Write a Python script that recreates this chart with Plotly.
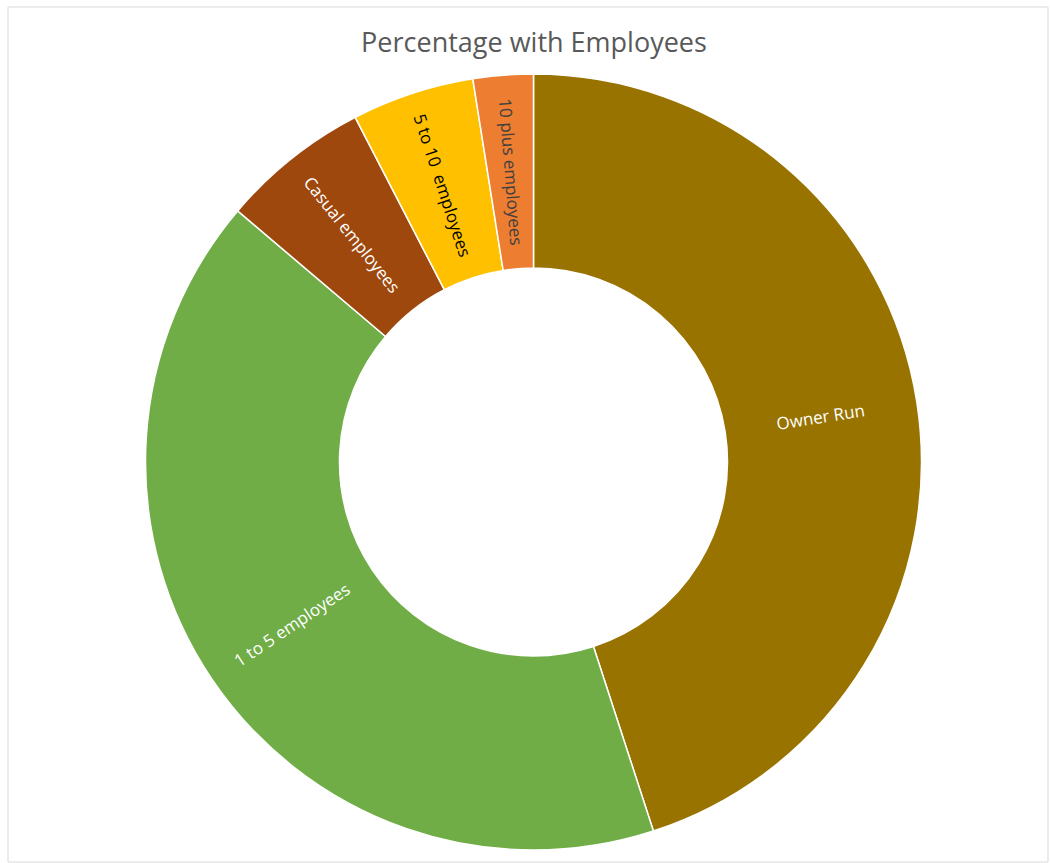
import math
import plotly.graph_objects as go

labels = ["Owner Run", "1 to 5 employees", "Casual employees", "5 to 10  employees", "10 plus employees"]
values = [45.0, 41.2, 6.2, 5.1, 2.5]
colors = ["#997300", "#70AD47", "#9E480E", "#FFC000", "#ED7D31"]
text_colors = ["#FFFFFF", "#FFFFFF", "#FFFFFF", "#000000", "#404040"]

W, H = 1050, 863
# donut geometry (pixels)
CX, CY, R = 533.5, 462.0, 388.0
HOLE = 0.5

fig = go.Figure(go.Pie(
    labels=labels,
    values=values,
    sort=False,
    direction="clockwise",
    rotation=0,
    hole=HOLE,
    marker=dict(colors=colors, line=dict(color="#FFFFFF", width=1.5)),
    textinfo="none",
    hoverinfo="label+percent",
    showlegend=False,
    domain=dict(x=[(CX - R) / W, (CX + R) / W], y=[(H - (CY + R)) / H, (H - (CY - R)) / H]),
))

# radial labels placed at the middle of the ring, derived from the values
total = sum(values)
r_mid = R * (1 + HOLE) / 2
annotations = []
cum = 0.0
for lab, v, tc in zip(labels, values, text_colors):
    theta = (cum + v / 2) / total * 360.0  # clockwise from 12 o'clock
    cum += v
    t = math.radians(theta)
    px = CX + r_mid * math.sin(t)
    py = CY - r_mid * math.cos(t)
    ang = theta - 90.0
    while ang > 90:
        ang -= 180
    while ang < -90:
        ang += 180
    annotations.append(dict(
        text=lab, x=px / W, y=1 - py / H, xref="paper", yref="paper",
        xanchor="center", yanchor="middle", showarrow=False, textangle=ang,
        font=dict(family="Open Sans", size=17, color=tc),
    ))

fig.update_layout(
    width=W, height=H,
    margin=dict(l=0, r=0, t=0, b=0),
    paper_bgcolor="#FFFFFF",
    title=dict(text="Percentage with Employees", x=534 / W, xanchor="center",
               y=1 - 43 / H, yanchor="middle",
               font=dict(family="Open Sans", size=27, color="#595959")),
    annotations=annotations,
    shapes=[dict(type="rect", xref="paper", yref="paper",
                 x0=8 / W, x1=1048 / W, y0=1 / H, y1=1 - 7 / H,
                 line=dict(color="#D9D9D9", width=1), fillcolor="rgba(0,0,0,0)")],
)

fig.write_html("out.html")
